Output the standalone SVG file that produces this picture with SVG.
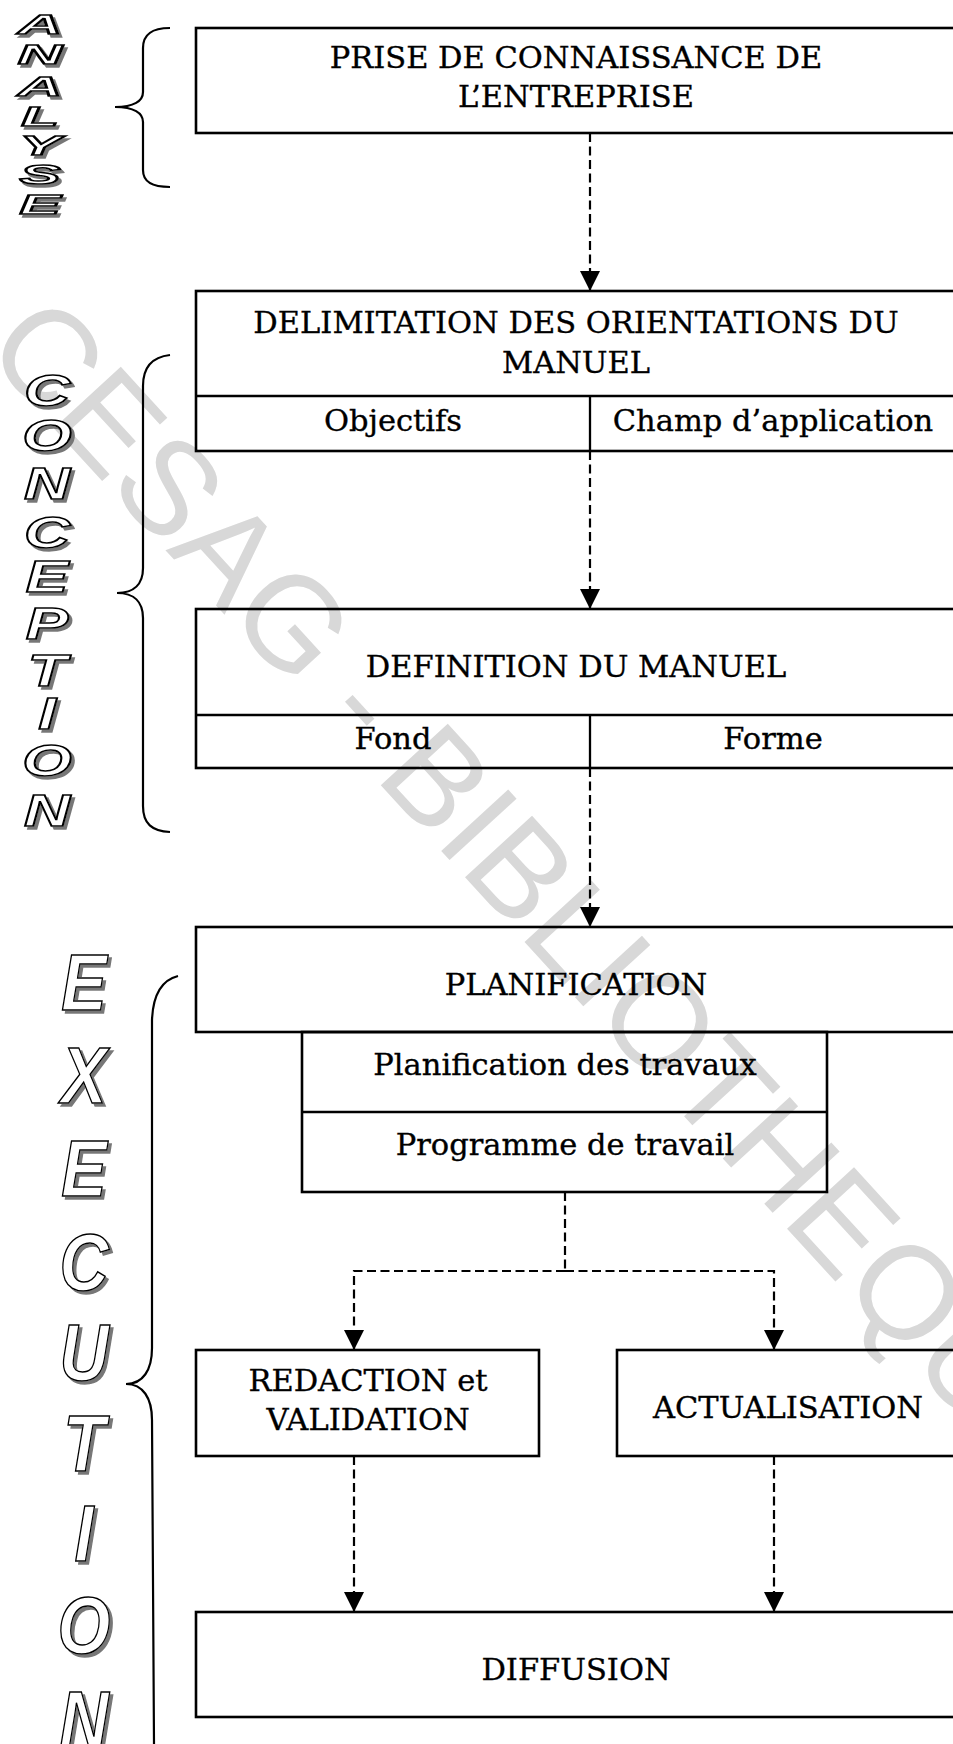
<svg xmlns="http://www.w3.org/2000/svg" width="953" height="1744" viewBox="0 0 953 1744">
  <defs>
    <marker id="arrow" viewBox="0 0 20 20" refX="20" refY="10" markerWidth="20" markerHeight="20" markerUnits="userSpaceOnUse" orient="auto">
      <path d="M0,0 L20,10 L0,20 Z" fill="#000"/>
    </marker>
    <!-- grey drop shadow for the outlined phase titles -->
    <filter id="shadow" x="-20%" y="-20%" width="150%" height="150%">
      <feFlood flood-color="#777"/>
      <feComposite in2="SourceAlpha" operator="in"/>
      <feOffset dx="3" dy="3" result="sh"/>
      <feMerge>
        <feMergeNode in="sh"/>
        <feMergeNode in="SourceGraphic"/>
      </feMerge>
    </filter>
    <style>
      .box { fill: none; stroke: #000; stroke-width: 2.6; }
      .div { fill: none; stroke: #000; stroke-width: 2.3; }
      .lbl { font-family: "DejaVu Serif", "Liberation Serif", serif; font-size: 30.5px; fill: #000; stroke: #000; stroke-width: 0.35; text-anchor: middle; }
      .dash { fill: none; stroke: #000; stroke-width: 2.2; stroke-dasharray: 9 4.5; }
      .brace { fill: none; stroke: #000; stroke-width: 2.2; }
      .wm { font-family: "Liberation Sans", Arial, sans-serif; font-size: 132px; fill: #d8d8d8; }
      .wa { font-family: "Liberation Sans", Arial, sans-serif; font-weight: bold; font-style: italic; text-anchor: middle; fill: #fff; stroke: #000; stroke-width: 1.5; filter: url(#shadow); }
      .a { font-size: 28px; }
      .c { font-size: 44px; }
      .e { font-size: 80px; }
    </style>
  </defs>

  <rect width="953" height="1744" fill="#fff"/>

  <!-- library watermark, behind everything -->
  <text class="wm" x="-18" y="350" transform="rotate(47.5 -18 350)">CESAG - BIBLIOTHEQUE</text>

  <!-- phase braces -->
  <g id="braces">
    <path class="brace" d="M170,28 C152,28 143,34 143,48 L143,92 C143,101 134,107 115,107 C134,107 143,113 143,122 L143,170 C143,182 152,187 170,187"/>
    <path class="brace" d="M170,355 C152,357 143,368 143,386 L143,568 C143,584 134,593 117,593 C134,593 143,602 143,618 L143,806 C143,824 152,831 170,832"/>
    <path class="brace" d="M178,976 C162,980 153,995 152,1020 L152,1348 C152,1370 143,1384 126,1384 C143,1384 152,1398 152,1420 L154,1744"/>
  </g>

  <!-- vertical phase titles -->
  <g id="title-analyse" class="wa a">
    <text transform="translate(40,34) scale(2.2,1)">A</text>
    <text transform="translate(40,64) scale(2.2,1)">N</text>
    <text transform="translate(40,96) scale(2.2,1)">A</text>
    <text transform="translate(40,126) scale(2.2,1)">L</text>
    <text transform="translate(40,155) scale(2.2,1)">Y</text>
    <text transform="translate(40,184) scale(2.2,1)">S</text>
    <text transform="translate(40,214) scale(2.2,1)">E</text>
  </g>

  <g id="title-conception" class="wa c">
    <text transform="translate(47,406) scale(1.45,1)">C</text>
    <text transform="translate(47,451) scale(1.45,1)">O</text>
    <text transform="translate(47,499) scale(1.45,1)">N</text>
    <text transform="translate(47,548) scale(1.45,1)">C</text>
    <text transform="translate(47,592) scale(1.45,1)">E</text>
    <text transform="translate(47,639) scale(1.45,1)">P</text>
    <text transform="translate(47,686) scale(1.45,1)">T</text>
    <text transform="translate(47,729) scale(1.45,1)">I</text>
    <text transform="translate(47,776) scale(1.45,1)">O</text>
    <text transform="translate(47,826) scale(1.45,1)">N</text>
  </g>

  <g id="title-execution" class="wa e">
    <text transform="translate(84,1010) scale(0.85,1)">E</text>
    <text transform="translate(84,1103) scale(0.85,1)">X</text>
    <text transform="translate(84,1196) scale(0.85,1)">E</text>
    <text transform="translate(84,1290) scale(0.85,1)">C</text>
    <text transform="translate(84,1380) scale(0.85,1)">U</text>
    <text transform="translate(84,1471) scale(0.85,1)">T</text>
    <text transform="translate(84,1561) scale(0.85,1)">I</text>
    <text transform="translate(84,1653) scale(0.85,1)">O</text>
    <text transform="translate(84,1747) scale(0.85,1)">N</text>
  </g>

  <!-- connectors -->
  <g id="connectors">
    <path class="dash" d="M590,133 L590,291" marker-end="url(#arrow)"/>
    <path class="dash" d="M590,451 L590,609" marker-end="url(#arrow)"/>
    <path class="dash" d="M590,768 L590,927" marker-end="url(#arrow)"/>
    <path class="dash" d="M565,1192 L565,1271"/>
    <path class="dash" d="M565,1271 L354,1271 L354,1350" marker-end="url(#arrow)"/>
    <path class="dash" d="M565,1271 L774,1271 L774,1350" marker-end="url(#arrow)"/>
    <path class="dash" d="M354,1456 L354,1612" marker-end="url(#arrow)"/>
    <path class="dash" d="M774,1456 L774,1612" marker-end="url(#arrow)"/>
  </g>

  <!-- nodes -->
  <g id="prise-de-connaissance">
    <rect class="box" x="196" y="28" width="760" height="105"/>
    <text class="lbl" x="576" y="68">PRISE DE CONNAISSANCE DE</text>
    <text class="lbl" x="576" y="107">L’ENTREPRISE</text>
  </g>

  <g id="delimitation">
    <rect class="box" x="196" y="291" width="760" height="160"/>
    <line class="div" x1="196" y1="396" x2="956" y2="396"/>
    <line class="div" x1="590" y1="396" x2="590" y2="451"/>
    <text class="lbl" x="576" y="333">DELIMITATION DES ORIENTATIONS DU</text>
    <text class="lbl" x="576" y="373">MANUEL</text>
    <text class="lbl" x="393" y="431">Objectifs</text>
    <text class="lbl" x="773" y="431">Champ d’application</text>
  </g>

  <g id="definition">
    <rect class="box" x="196" y="609" width="760" height="159"/>
    <line class="div" x1="196" y1="715" x2="956" y2="715"/>
    <line class="div" x1="590" y1="715" x2="590" y2="768"/>
    <text class="lbl" x="576" y="677">DEFINITION DU MANUEL</text>
    <text class="lbl" x="393" y="749">Fond</text>
    <text class="lbl" x="773" y="749">Forme</text>
  </g>

  <g id="planification">
    <rect class="box" x="196" y="927" width="760" height="105"/>
    <text class="lbl" x="576" y="995">PLANIFICATION</text>
  </g>

  <g id="planification-details">
    <rect class="box" x="302" y="1032" width="525" height="160"/>
    <line class="div" x1="302" y1="1112" x2="827" y2="1112"/>
    <text class="lbl" x="565" y="1075">Planification des travaux</text>
    <text class="lbl" x="565" y="1155">Programme de travail</text>
  </g>

  <g id="redaction">
    <rect class="box" x="196" y="1350" width="343" height="106"/>
    <text class="lbl" x="368" y="1391">REDACTION et</text>
    <text class="lbl" x="368" y="1430">VALIDATION</text>
  </g>

  <g id="actualisation">
    <rect class="box" x="617" y="1350" width="339" height="106"/>
    <text class="lbl" x="788" y="1418">ACTUALISATION</text>
  </g>

  <g id="diffusion">
    <rect class="box" x="196" y="1612" width="760" height="105"/>
    <text class="lbl" x="576" y="1680">DIFFUSION</text>
  </g>
</svg>
